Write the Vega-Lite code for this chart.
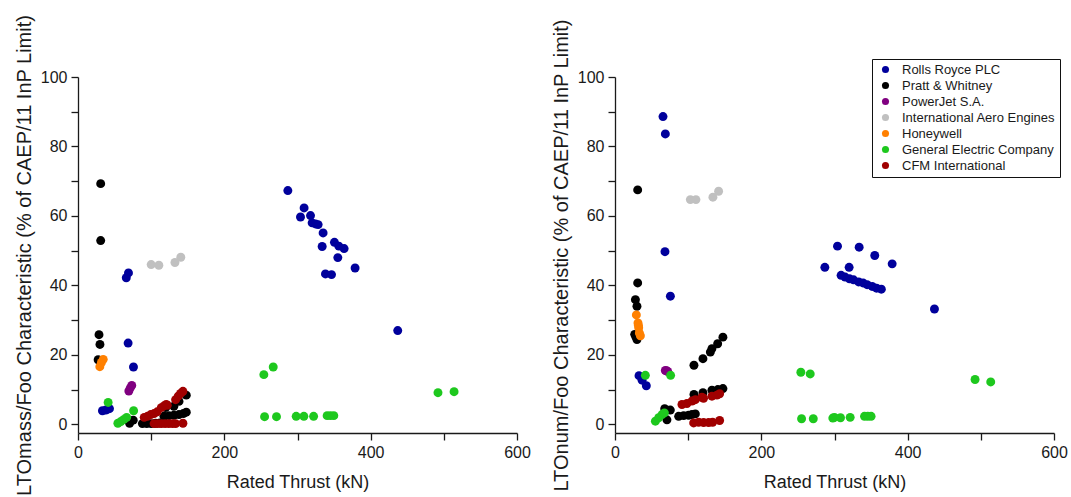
{
 "$schema": "https://vega.github.io/schema/vega-lite/v6.json",
 "background": "white",
 "padding": {"left": 14, "top": 14, "right": 3, "bottom": 0},
 "config": {
  "view": {"stroke": null},
  "font": "Liberation Sans",
  "axis": {"domainColor": "#1a1a1a", "domainWidth": 1.3, "tickColor": "#1a1a1a", "tickWidth": 1.3, "tickSize": 7, "labelFontSize": 16, "labelColor": "#1a1a1a", "titleFontSize": 18, "titleFontWeight": "normal", "titleColor": "#1a1a1a", "grid": false, "labelFont": "Liberation Sans", "titleFont": "Liberation Sans", "labelOverlap": false, "labelFlush": false}
 },
 "datasets": {
  "pts": [
   {"p":"m","c":"Rolls Royce PLC","t":33.4,"v":3.9},{"p":"m","c":"Rolls Royce PLC","t":38,"v":4.1},{"p":"m","c":"Rolls Royce PLC","t":43,"v":4.5},{"p":"m","c":"Rolls Royce PLC","t":66,"v":42.2},{"p":"m","c":"Rolls Royce PLC","t":69,"v":43.6},{"p":"m","c":"Rolls Royce PLC","t":68.5,"v":23.4},{"p":"m","c":"Rolls Royce PLC","t":75.8,"v":16.5},
   {"p":"m","c":"Rolls Royce PLC","t":286.8,"v":67.3},{"p":"m","c":"Rolls Royce PLC","t":304.1,"v":59.7},{"p":"m","c":"Rolls Royce PLC","t":309,"v":62.3},{"p":"m","c":"Rolls Royce PLC","t":317.8,"v":60.1},{"p":"m","c":"Rolls Royce PLC","t":320,"v":58},{"p":"m","c":"Rolls Royce PLC","t":324.6,"v":57.7},{"p":"m","c":"Rolls Royce PLC","t":328.2,"v":57.5},{"p":"m","c":"Rolls Royce PLC","t":335,"v":55.1},{"p":"m","c":"Rolls Royce PLC","t":333.7,"v":51.2},{"p":"m","c":"Rolls Royce PLC","t":350.5,"v":52.4},{"p":"m","c":"Rolls Royce PLC","t":356.5,"v":51.3},{"p":"m","c":"Rolls Royce PLC","t":363.7,"v":50.6},{"p":"m","c":"Rolls Royce PLC","t":355.1,"v":48},{"p":"m","c":"Rolls Royce PLC","t":378.7,"v":45},{"p":"m","c":"Rolls Royce PLC","t":338.2,"v":43.3},{"p":"m","c":"Rolls Royce PLC","t":346.5,"v":43.1},{"p":"m","c":"Rolls Royce PLC","t":437,"v":27},
   {"p":"m","c":"Pratt & Whitney","t":31,"v":69.3},{"p":"m","c":"Pratt & Whitney","t":31,"v":52.9},{"p":"m","c":"Pratt & Whitney","t":28.7,"v":25.8},{"p":"m","c":"Pratt & Whitney","t":30,"v":23},{"p":"m","c":"Pratt & Whitney","t":27.5,"v":18.6},{"p":"m","c":"Pratt & Whitney","t":70.5,"v":0.3},{"p":"m","c":"Pratt & Whitney","t":75.5,"v":1.2},{"p":"m","c":"Pratt & Whitney","t":88,"v":0.2},{"p":"m","c":"Pratt & Whitney","t":94,"v":0.2},{"p":"m","c":"Pratt & Whitney","t":100,"v":0.2},{"p":"m","c":"Pratt & Whitney","t":106,"v":0.3},{"p":"m","c":"Pratt & Whitney","t":112,"v":0.4},{"p":"m","c":"Pratt & Whitney","t":117.5,"v":2.3},{"p":"m","c":"Pratt & Whitney","t":124.3,"v":2.5},{"p":"m","c":"Pratt & Whitney","t":131,"v":2.6},{"p":"m","c":"Pratt & Whitney","t":138,"v":2.8},{"p":"m","c":"Pratt & Whitney","t":144,"v":3.1},{"p":"m","c":"Pratt & Whitney","t":148,"v":3.5},{"p":"m","c":"Pratt & Whitney","t":119.7,"v":4.8},{"p":"m","c":"Pratt & Whitney","t":131,"v":5.2},{"p":"m","c":"Pratt & Whitney","t":138,"v":6.6},{"p":"m","c":"Pratt & Whitney","t":148,"v":8.4},
   {"p":"m","c":"PowerJet S.A.","t":69.5,"v":9.6},{"p":"m","c":"PowerJet S.A.","t":71.5,"v":10.5},{"p":"m","c":"PowerJet S.A.","t":73.5,"v":11.2},
   {"p":"m","c":"International Aero Engines","t":100,"v":46},{"p":"m","c":"International Aero Engines","t":110.5,"v":45.8},{"p":"m","c":"International Aero Engines","t":132.5,"v":46.6},{"p":"m","c":"International Aero Engines","t":140.5,"v":48.1},
   {"p":"m","c":"Honeywell","t":29.8,"v":16.6},{"p":"m","c":"Honeywell","t":32,"v":17.8},{"p":"m","c":"Honeywell","t":34.5,"v":18.7},
   {"p":"m","c":"General Electric Company","t":41.2,"v":6.3},{"p":"m","c":"General Electric Company","t":54.5,"v":0.3},{"p":"m","c":"General Electric Company","t":58.5,"v":0.8},{"p":"m","c":"General Electric Company","t":62.8,"v":1.4},{"p":"m","c":"General Electric Company","t":66.5,"v":2},{"p":"m","c":"General Electric Company","t":76,"v":3.9},{"p":"m","c":"General Electric Company","t":254,"v":14.3},{"p":"m","c":"General Electric Company","t":266.8,"v":16.5},{"p":"m","c":"General Electric Company","t":255,"v":2.2},{"p":"m","c":"General Electric Company","t":271.3,"v":2.2},{"p":"m","c":"General Electric Company","t":298.2,"v":2.3},{"p":"m","c":"General Electric Company","t":308.7,"v":2.3},{"p":"m","c":"General Electric Company","t":322,"v":2.3},{"p":"m","c":"General Electric Company","t":340.5,"v":2.5},{"p":"m","c":"General Electric Company","t":345,"v":2.5},{"p":"m","c":"General Electric Company","t":349.6,"v":2.5},{"p":"m","c":"General Electric Company","t":492,"v":9.1},{"p":"m","c":"General Electric Company","t":514,"v":9.4},
   {"p":"m","c":"CFM International","t":90.5,"v":2},{"p":"m","c":"CFM International","t":95,"v":2.3},{"p":"m","c":"CFM International","t":99.5,"v":2.8},{"p":"m","c":"CFM International","t":104,"v":3.1},{"p":"m","c":"CFM International","t":108.3,"v":3.6},{"p":"m","c":"CFM International","t":113.8,"v":4.8},{"p":"m","c":"CFM International","t":117.5,"v":5.3},{"p":"m","c":"CFM International","t":120.6,"v":5.7},{"p":"m","c":"CFM International","t":122,"v":5.5},{"p":"m","c":"CFM International","t":133.4,"v":7.1},{"p":"m","c":"CFM International","t":137,"v":8.1},{"p":"m","c":"CFM International","t":140.2,"v":8.9},{"p":"m","c":"CFM International","t":143.4,"v":9.5},{"p":"m","c":"CFM International","t":104,"v":0.2},{"p":"m","c":"CFM International","t":109,"v":0.2},{"p":"m","c":"CFM International","t":114,"v":0.2},{"p":"m","c":"CFM International","t":119,"v":0.2},{"p":"m","c":"CFM International","t":124,"v":0.2},{"p":"m","c":"CFM International","t":129,"v":0.2},{"p":"m","c":"CFM International","t":133.4,"v":0.2},{"p":"m","c":"CFM International","t":143.4,"v":0.3},

   {"p":"n","c":"Rolls Royce PLC","t":65.6,"v":88.6},{"p":"n","c":"Rolls Royce PLC","t":68.8,"v":83.6},{"p":"n","c":"Rolls Royce PLC","t":68.3,"v":49.7},{"p":"n","c":"Rolls Royce PLC","t":75.7,"v":36.9},{"p":"n","c":"Rolls Royce PLC","t":32.8,"v":14},{"p":"n","c":"Rolls Royce PLC","t":37,"v":12.7},{"p":"n","c":"Rolls Royce PLC","t":42.8,"v":11.1},
   {"p":"n","c":"Rolls Royce PLC","t":286.8,"v":45.2},{"p":"n","c":"Rolls Royce PLC","t":304.1,"v":51.3},{"p":"n","c":"Rolls Royce PLC","t":320,"v":45.2},{"p":"n","c":"Rolls Royce PLC","t":333.7,"v":51},{"p":"n","c":"Rolls Royce PLC","t":355,"v":48.6},{"p":"n","c":"Rolls Royce PLC","t":378.8,"v":46.2},{"p":"n","c":"Rolls Royce PLC","t":436.6,"v":33.2},
   {"p":"n","c":"Rolls Royce PLC","t":309,"v":42.9},{"p":"n","c":"Rolls Royce PLC","t":314.5,"v":42.4},{"p":"n","c":"Rolls Royce PLC","t":320.5,"v":41.9},{"p":"n","c":"Rolls Royce PLC","t":326,"v":41.6},{"p":"n","c":"Rolls Royce PLC","t":333,"v":41},{"p":"n","c":"Rolls Royce PLC","t":339,"v":40.7},{"p":"n","c":"Rolls Royce PLC","t":344.6,"v":40.2},{"p":"n","c":"Rolls Royce PLC","t":351.5,"v":39.7},{"p":"n","c":"Rolls Royce PLC","t":357.5,"v":39.2},{"p":"n","c":"Rolls Royce PLC","t":364,"v":38.9},
   {"p":"n","c":"Pratt & Whitney","t":31,"v":67.5},{"p":"n","c":"Pratt & Whitney","t":31,"v":40.7},{"p":"n","c":"Pratt & Whitney","t":27.9,"v":35.9},{"p":"n","c":"Pratt & Whitney","t":30,"v":34},{"p":"n","c":"Pratt & Whitney","t":26.9,"v":25.9},{"p":"n","c":"Pratt & Whitney","t":30,"v":24.4},{"p":"n","c":"Pratt & Whitney","t":28.5,"v":25.2},
   {"p":"n","c":"Pratt & Whitney","t":67.9,"v":4.5},{"p":"n","c":"Pratt & Whitney","t":75.6,"v":4.1},{"p":"n","c":"Pratt & Whitney","t":71,"v":1.3},{"p":"n","c":"Pratt & Whitney","t":87,"v":2.3},{"p":"n","c":"Pratt & Whitney","t":93.8,"v":2.5},{"p":"n","c":"Pratt & Whitney","t":100.6,"v":2.6},{"p":"n","c":"Pratt & Whitney","t":105.2,"v":2.8},{"p":"n","c":"Pratt & Whitney","t":109.8,"v":3},
   {"p":"n","c":"Pratt & Whitney","t":107.9,"v":17},{"p":"n","c":"Pratt & Whitney","t":120.2,"v":18.9},{"p":"n","c":"Pratt & Whitney","t":130.3,"v":20.8},{"p":"n","c":"Pratt & Whitney","t":132.5,"v":21.8},{"p":"n","c":"Pratt & Whitney","t":140.3,"v":23.2},{"p":"n","c":"Pratt & Whitney","t":147.5,"v":25.1},
   {"p":"n","c":"Pratt & Whitney","t":107.9,"v":8.6},{"p":"n","c":"Pratt & Whitney","t":120.2,"v":9.1},{"p":"n","c":"Pratt & Whitney","t":132.5,"v":9.8},{"p":"n","c":"Pratt & Whitney","t":140.6,"v":10},{"p":"n","c":"Pratt & Whitney","t":147.5,"v":10.3},
   {"p":"n","c":"PowerJet S.A.","t":68.8,"v":15.5},{"p":"n","c":"PowerJet S.A.","t":70.7,"v":15.4},{"p":"n","c":"PowerJet S.A.","t":72,"v":15.2},
   {"p":"n","c":"International Aero Engines","t":103,"v":64.7},{"p":"n","c":"International Aero Engines","t":110.6,"v":64.7},{"p":"n","c":"International Aero Engines","t":133.8,"v":65.4},{"p":"n","c":"International Aero Engines","t":141.6,"v":67.1},
   {"p":"n","c":"Honeywell","t":29.2,"v":31.5},{"p":"n","c":"Honeywell","t":31.4,"v":29.2},{"p":"n","c":"Honeywell","t":32,"v":28.5},{"p":"n","c":"Honeywell","t":32.4,"v":27.8},{"p":"n","c":"Honeywell","t":33.3,"v":26.3},{"p":"n","c":"Honeywell","t":34.7,"v":25.5},
   {"p":"n","c":"General Electric Company","t":41.5,"v":14.1},{"p":"n","c":"General Electric Company","t":76,"v":14.1},{"p":"n","c":"General Electric Company","t":55.2,"v":0.9},{"p":"n","c":"General Electric Company","t":59.7,"v":1.9},{"p":"n","c":"General Electric Company","t":64.2,"v":2.8},{"p":"n","c":"General Electric Company","t":67.5,"v":3.3},{"p":"n","c":"General Electric Company","t":254,"v":15},{"p":"n","c":"General Electric Company","t":266.8,"v":14.5},{"p":"n","c":"General Electric Company","t":492.1,"v":12.9},{"p":"n","c":"General Electric Company","t":513.5,"v":12.2},{"p":"n","c":"General Electric Company","t":255,"v":1.6},{"p":"n","c":"General Electric Company","t":271,"v":1.6},{"p":"n","c":"General Electric Company","t":297.7,"v":1.8},{"p":"n","c":"General Electric Company","t":300,"v":2},{"p":"n","c":"General Electric Company","t":308.2,"v":1.9},{"p":"n","c":"General Electric Company","t":321.4,"v":2},{"p":"n","c":"General Electric Company","t":341,"v":2.3},{"p":"n","c":"General Electric Company","t":345.5,"v":2.3},{"p":"n","c":"General Electric Company","t":350,"v":2.3},
   {"p":"n","c":"CFM International","t":91.5,"v":5.7},{"p":"n","c":"CFM International","t":98.3,"v":6},{"p":"n","c":"CFM International","t":105.2,"v":6.7},{"p":"n","c":"CFM International","t":109.8,"v":7.1},{"p":"n","c":"CFM International","t":118.8,"v":7.8},{"p":"n","c":"CFM International","t":121,"v":7.5},{"p":"n","c":"CFM International","t":132.5,"v":8.1},{"p":"n","c":"CFM International","t":139.3,"v":8.4},{"p":"n","c":"CFM International","t":143,"v":8.8},{"p":"n","c":"CFM International","t":107.5,"v":0.4},{"p":"n","c":"CFM International","t":114.3,"v":0.6},{"p":"n","c":"CFM International","t":121.1,"v":0.5},{"p":"n","c":"CFM International","t":127.9,"v":0.5},{"p":"n","c":"CFM International","t":133.4,"v":0.6},{"p":"n","c":"CFM International","t":143,"v":1.1}
  ]
 },
 "bounds": "flush",
 "spacing": 98,
 "resolve": {"legend": {"color": "independent"}},
 "hconcat": [
  {
   "width": 439, "height": 356,
   "data": {"name": "pts"},
   "transform": [{"filter": "datum.p == 'm'"}],
   "mark": {"type": "circle", "opacity": 1, "size": 80},
   "encoding": {
    "x": {"field": "t", "type": "quantitative", "scale": {"domain": [0, 600], "nice": false}, "axis": {"title": "Rated Thrust (kN)", "values": [0, 100, 200, 300, 400, 500, 600], "labelExpr": "datum.value % 200 == 0 ? datum.label : ''", "labelPadding": 4, "titlePadding": 13}},
    "y": {"field": "v", "type": "quantitative", "scale": {"domain": [-2.5, 100], "nice": false, "zero": false}, "axis": {"title": "LTOmass/Foo Characteristic (% of CAEP/11 InP Limit)", "titleFontSize": 20, "values": [0, 10, 20, 30, 40, 50, 60, 70, 80, 90, 100], "labelExpr": "datum.value % 20 == 0 ? datum.label : ''", "labelPadding": 4, "titlePadding": 6}},
    "color": {"field": "c", "type": "nominal", "scale": {"domain": ["Rolls Royce PLC", "Pratt & Whitney", "PowerJet S.A.", "International Aero Engines", "Honeywell", "General Electric Company", "CFM International"], "range": ["#00009c", "#000000", "#800080", "#c0c0c0", "#ff8000", "#1ec81e", "#a00000"]}, "legend": null}
   }
  },
  {
   "width": 439, "height": 356,
   "data": {"name": "pts"},
   "transform": [{"filter": "datum.p == 'n'"}],
   "mark": {"type": "circle", "opacity": 1, "size": 80},
   "encoding": {
    "x": {"field": "t", "type": "quantitative", "scale": {"domain": [0, 600], "nice": false}, "axis": {"title": "Rated Thrust (kN)", "values": [0, 100, 200, 300, 400, 500, 600], "labelExpr": "datum.value % 200 == 0 ? datum.label : ''", "labelPadding": 4, "titlePadding": 13}},
    "y": {"field": "v", "type": "quantitative", "scale": {"domain": [-2.5, 100], "nice": false, "zero": false}, "axis": {"title": "LTOnum/Foo Characteristic (% of CAEP/11 InP Limit)", "titleFontSize": 20, "values": [0, 10, 20, 30, 40, 50, 60, 70, 80, 90, 100], "labelExpr": "datum.value % 20 == 0 ? datum.label : ''", "labelPadding": 4, "titlePadding": 6}},
    "color": {"field": "c", "type": "nominal", "scale": {"domain": ["Rolls Royce PLC", "Pratt & Whitney", "PowerJet S.A.", "International Aero Engines", "Honeywell", "General Electric Company", "CFM International"], "range": ["#00009c", "#000000", "#800080", "#c0c0c0", "#ff8000", "#1ec81e", "#a00000"]},
     "legend": {"title": null, "orient": "none", "legendX": 257, "legendY": -18, "strokeColor": "#111", "fillColor": "white", "padding": 4, "labelFontSize": 13, "labelFont": "Liberation Sans", "labelColor": "#1a1a1a", "rowPadding": 2, "symbolSize": 50, "symbolType": "circle", "symbolStrokeWidth": 0, "symbolOffset": 3, "labelOffset": 10}}
   }
  }
 ]
}
